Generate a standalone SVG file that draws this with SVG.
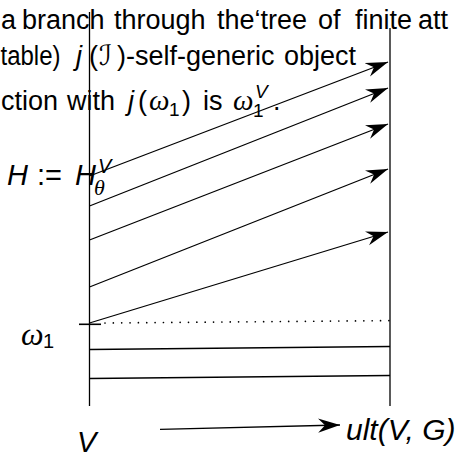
<svg xmlns="http://www.w3.org/2000/svg" width="461" height="457" viewBox="0 0 461 457">
<style>
.t{font-family:"Liberation Sans",Arial,sans-serif;font-size:27px;fill:#000}
.i{font-family:"Liberation Sans",Arial,sans-serif;font-style:italic;fill:#000}
.g{font-family:"Liberation Serif","DejaVu Serif",serif;font-style:italic;fill:#000}
.ln{stroke:#000;stroke-width:1.3;fill:none}
.ar{stroke:#000;stroke-width:1.3;fill:none;marker-end:url(#ah)}
</style>
<defs>
<marker id="ah" markerUnits="userSpaceOnUse" markerWidth="24" markerHeight="16" refX="22" refY="8" orient="auto" viewBox="0 0 24 16">
<path d="M22,8 L0,0.8 L7,8 L0,15.2 Z" fill="#000"/>
</marker>
</defs>
<rect width="461" height="457" fill="#fff"/>
<g id="paragraph">
<text class="t" y="29"><tspan x="1">a</tspan><tspan x="22">branch</tspan><tspan x="114">through</tspan><tspan x="217">the‘tree</tspan><tspan x="318">of</tspan><tspan x="355">finite</tspan><tspan x="418">att</tspan></text>
<text class="t" x="0.5" y="65" textLength="60" lengthAdjust="spacingAndGlyphs">table)</text>
<text class="t" y="65"><tspan x="76" class="i">j</tspan><tspan x="89">(</tspan><tspan x="99" style="font-family:'DejaVu Serif','DejaVu Sans',serif;font-size:28px">ℐ</tspan><tspan x="117">)-self-generic</tspan><tspan x="284">object</tspan></text>
<text class="t" y="110"><tspan x="1">ction</tspan><tspan x="67">with</tspan><tspan x="128" class="i">j</tspan><tspan x="138">(</tspan><tspan x="149" class="g" style="font-size:29px">ω</tspan><tspan x="169" y="116" style="font-size:19px">1</tspan><tspan x="182" y="110">)</tspan><tspan x="203">is</tspan><tspan x="233" class="g" style="font-size:29px">ω</tspan><tspan x="253" y="117" style="font-size:19px">1</tspan><tspan x="255" y="98" class="i" style="font-size:19px">V</tspan><tspan x="273" y="110">.</tspan></text>
</g>
<g id="label-H">
<text class="i" style="font-size:29px" x="7" y="185">H</text>
<text class="t" style="font-size:29px" x="37" y="185">:=</text>
<text class="i" style="font-size:29px" x="75" y="185">H</text>
<text class="i" style="font-size:20px" x="98" y="173">V</text>
<text class="g" style="font-size:22px" x="94" y="195">θ</text>
</g>
<g id="label-omega1">
<text class="g" style="font-size:32px" x="21" y="345">ω</text>
<text class="t" style="font-size:20px" x="43" y="348">1</text>
</g>
<g id="label-V">
<text class="i" style="font-size:29px" x="77" y="452">V</text>
</g>
<g id="label-ult">
<text class="i" style="font-size:30px" x="346" y="440">ult(V, G)</text>
</g>
<g id="connectors">
<line class="ln" x1="89.5" y1="12" x2="89.5" y2="406"/>
<line class="ln" x1="390" y1="28" x2="390" y2="406"/>
<line class="ar" x1="89.5" y1="176" x2="388" y2="62"/>
<line class="ar" x1="89.5" y1="206" x2="388" y2="88"/>
<line class="ar" x1="89.5" y1="240" x2="388" y2="124"/>
<line class="ar" x1="89.5" y1="287" x2="388" y2="169"/>
<line class="ar" x1="89.5" y1="323" x2="388" y2="232"/>
<line x1="105" y1="323" x2="389" y2="320.6" stroke="#000" stroke-width="1.7" stroke-linecap="round" stroke-dasharray="0 8.35"/>
<line x1="79" y1="324.3" x2="101" y2="324.3" stroke="#000" stroke-width="1.6"/>
<line class="ln" x1="89.5" y1="349.5" x2="390" y2="346.5"/>
<line class="ln" x1="89.5" y1="378.5" x2="390" y2="375.5"/>
<line class="ar" x1="160" y1="429.3" x2="340" y2="425"/>
</g>
</svg>
